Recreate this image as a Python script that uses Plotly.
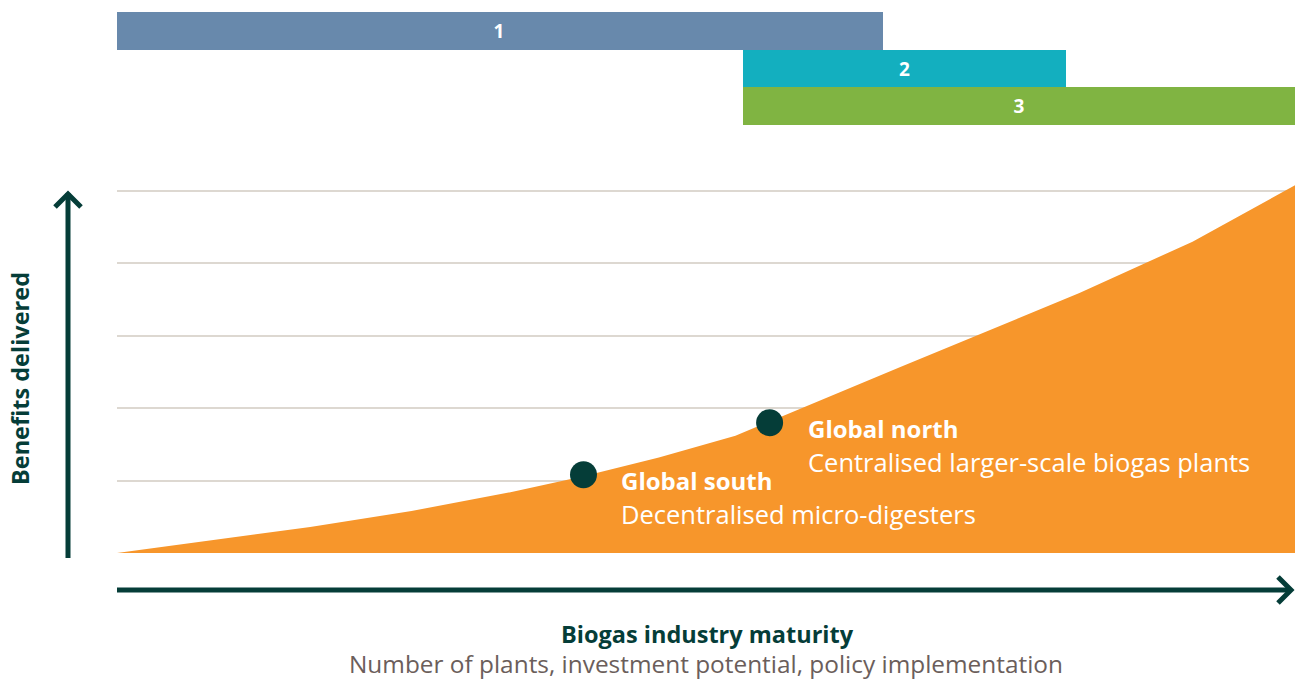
import plotly.graph_objects as go

W, H = 1295, 680

# Curve data (industry maturity vs benefits delivered)
curve_x = [0, 8, 16.4, 25, 33.4, 39.6, 46, 52.5, 66.5, 81.7, 91.3, 100]
curve_y = [0, 0.18, 0.36, 0.58, 0.84, 1.06, 1.32, 1.62, 2.57, 3.59, 4.30, 5.08]

# Highlighted points
pt_names = ["Global south", "Global north"]
pt_desc = ["Decentralised micro-digesters", "Centralised larger-scale biogas plants"]
pt_x = [39.6, 55.4]
pt_y = [1.08, 1.80]

# Phase bars at top
phase_labels = ["1", "2", "3"]
phase_start = [-0.2, 53.1, 53.1]
phase_end = [65.0, 80.6, 100.0]
phase_colors = ["#6889AC", "#13AFBF", "#80B442"]

grid_vals = [0, 1, 2, 3, 4, 5]

DARK = "#053D38"
ORANGE = "#F7962B"
FONT = "Open Sans"

def px(x):
    return x / W

def py(y):
    return 1 - y / H

fig = go.Figure()

fig.add_trace(go.Scatter(
    x=curve_x, y=curve_y, mode="lines", fill="tozeroy",
    line=dict(color=ORANGE, width=0), fillcolor=ORANGE,
    hoverinfo="skip", showlegend=False, xaxis="x", yaxis="y"))

fig.add_trace(go.Scatter(
    x=pt_x, y=pt_y, mode="markers",
    marker=dict(size=27, color=DARK),
    showlegend=False, xaxis="x", yaxis="y"))

fig.add_trace(go.Bar(
    y=phase_labels, x=[e - s for s, e in zip(phase_start, phase_end)],
    base=phase_start, orientation="h",
    marker=dict(color=phase_colors, line=dict(width=0)),
    text=phase_labels, textposition="inside", insidetextanchor="middle",
    textfont=dict(color="white", size=19, family=FONT, weight="bold"),
    showlegend=False, xaxis="x2", yaxis="y2"))

annotations = []
for n, d, x, y in zip(pt_names, pt_desc, pt_x, pt_y):
    annotations.append(dict(
        x=x, y=y, xref="x", yref="y", text="<b>" + n + "</b>",
        showarrow=False, xanchor="left", yanchor="middle",
        xshift=36, yshift=-6,
        font=dict(color="white", size=24, family=FONT)))
    annotations.append(dict(
        x=x, y=y, xref="x", yref="y", text=d,
        showarrow=False, xanchor="left", yanchor="middle",
        xshift=36, yshift=-39,
        font=dict(color="white", size=25.5, family=FONT)))

annotations += [
    dict(x=px(20), y=py(379), xref="paper", yref="paper",
         text="<b>Benefits delivered</b>", textangle=-90, showarrow=False,
         xanchor="center", yanchor="middle",
         font=dict(color=DARK, size=23.5, family=FONT)),
    dict(x=px(707), y=py(634), xref="paper", yref="paper",
         text="<b>Biogas industry maturity</b>", showarrow=False,
         xanchor="center", yanchor="middle",
         font=dict(color=DARK, size=23.5, family=FONT)),
    dict(x=px(706), y=py(663), xref="paper", yref="paper",
         text="Number of plants, investment potential, policy implementation",
         showarrow=False, xanchor="center", yanchor="middle",
         font=dict(color="#6B5E5B", size=24.4, family=FONT)),
]

def path(points):
    return "M " + " L ".join(f"{px(a)},{py(b)}" for a, b in points)

shapes = [
    dict(type="path", xref="paper", yref="paper",
         path=path([(68, 558), (68, 193)]), line=dict(color=DARK, width=5)),
    dict(type="path", xref="paper", yref="paper",
         path=path([(55, 207), (68, 194), (81, 207)]), line=dict(color=DARK, width=5)),
    dict(type="path", xref="paper", yref="paper",
         path=path([(117, 590), (1290, 590)]), line=dict(color=DARK, width=5)),
    dict(type="path", xref="paper", yref="paper",
         path=path([(1278, 577), (1291, 590), (1278, 603)]), line=dict(color=DARK, width=5)),
]

ypx_per_unit = (553 - 191) / 5
y_max = 5.1
y_top_px = 553 - y_max * ypx_per_unit

fig.update_layout(
    width=W, height=H,
    margin=dict(l=0, r=0, t=0, b=0),
    paper_bgcolor="white", plot_bgcolor="white",
    xaxis=dict(domain=[px(117), 1], range=[0, 100], showgrid=False,
               zeroline=False, showticklabels=False, ticks="", showline=False),
    yaxis=dict(domain=[py(553), py(y_top_px)], range=[0, y_max],
               tickvals=grid_vals, showgrid=True, gridcolor="#DDD8D1",
               gridwidth=1.5, zeroline=False, showticklabels=False,
               ticks="", showline=False),
    xaxis2=dict(domain=[px(117), 1], range=[0, 100], anchor="y2",
                showgrid=False, zeroline=False, showticklabels=False,
                ticks="", showline=False),
    yaxis2=dict(domain=[py(125), py(12)], anchor="x2", type="category",
                categoryorder="array", categoryarray=phase_labels,
                autorange="reversed", showgrid=False, zeroline=False,
                showticklabels=False, ticks="", showline=False),
    bargap=0,
    annotations=annotations,
    shapes=shapes,
    font=dict(family=FONT),
)

fig.update_traces(cliponaxis=False, selector=dict(type="bar"))

fig.write_html(
    "out.html",
    config={"displayModeBar": False},
    post_script="document.body.style.margin='0';document.body.style.overflow='hidden';",
)
